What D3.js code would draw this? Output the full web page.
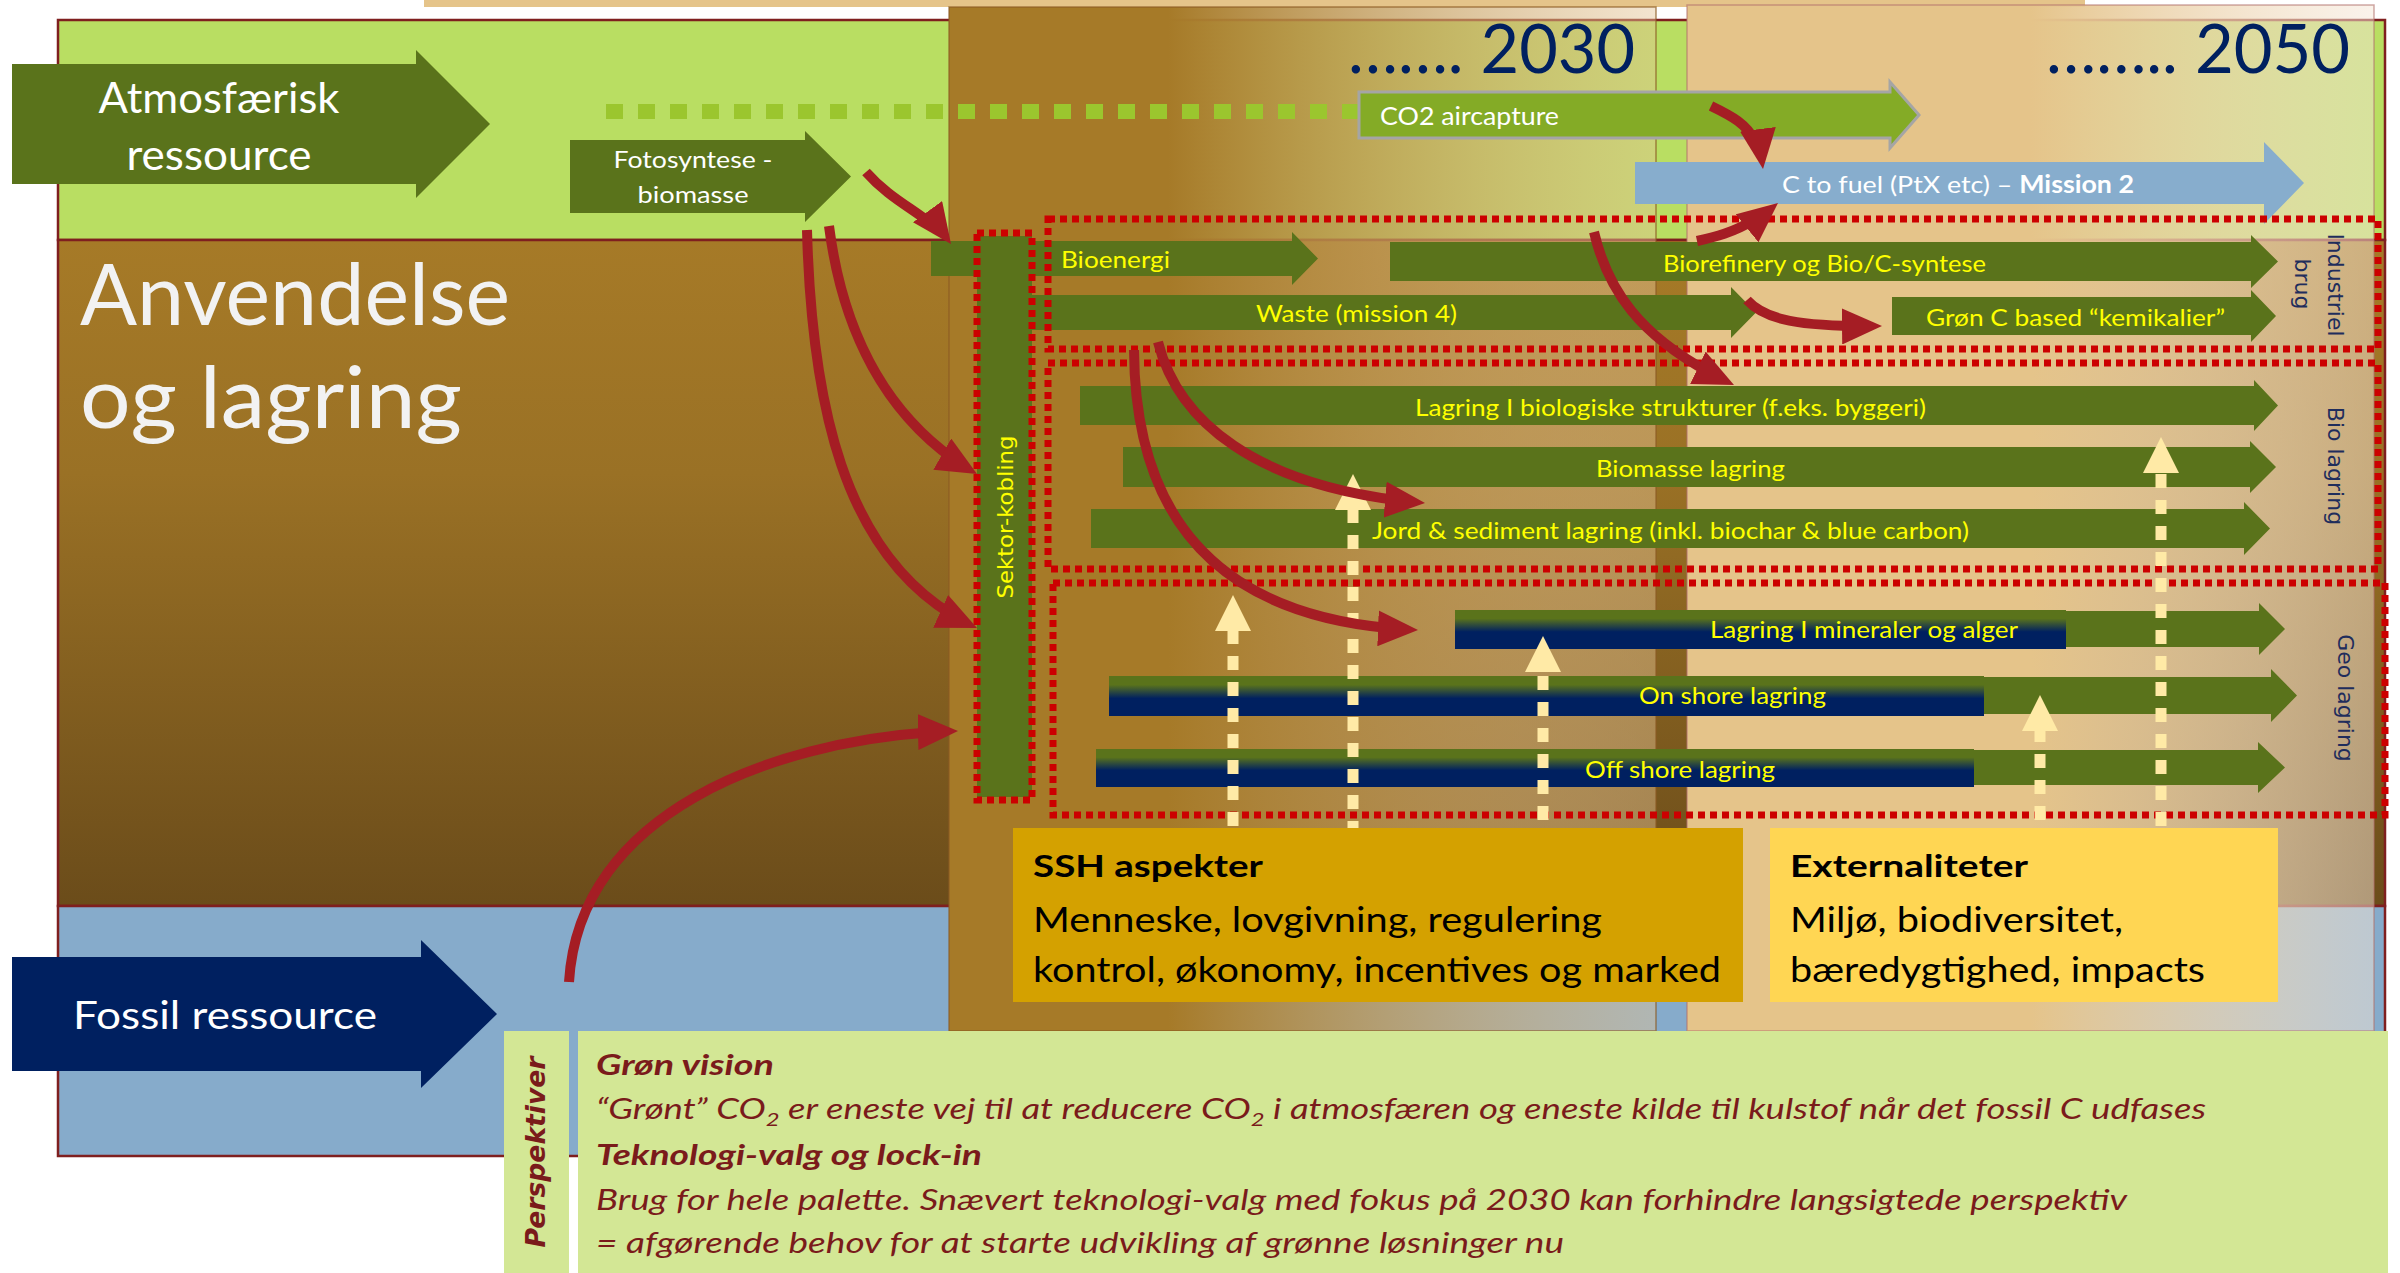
<!DOCTYPE html>
<html><head><meta charset="utf-8">
<script src="https://cdn.jsdelivr.net/npm/d3@7/dist/d3.min.js"></script>
<style>html,body{margin:0;padding:0;background:#fff;overflow:hidden}</style>
</head><body><svg id="c" width="2400" height="1273"></svg>
<script>
// ---------- content (texts of the diagram) ----------
const horizons = ["……. 2030", "…….. 2050"];
const sourceAtm = ["Atmosfærisk", "ressource"];
const sourceBio = ["Fotosyntese -", "biomasse"];
const sourceFossil = ["Fossil ressource"];
const captureLabel = ["CO2 aircapture"];
const fuelLabel = ["C to fuel (PtX etc) – ", "Mission 2"];
const useTitle = ["Anvendelse", "og lagring"];
const hubLabel = ["Sektor-kobling"];
const groupTitles = [["Industriel", "brug"], ["Bio lagring"], ["Geo lagring"]];
const industryFlows = ["Bioenergi", "Biorefinery og Bio/C-syntese", "Waste (mission 4)", "Grøn C based “kemikalier”"];
const bioFlows = ["Lagring I biologiske strukturer (f.eks. byggeri)", "Biomasse lagring", "Jord & sediment lagring (inkl. biochar & blue carbon)"];
const geoFlows = ["Lagring I mineraler og alger", "On shore lagring", "Off shore lagring"];
const sshLines = ["SSH aspekter", "Menneske, lovgivning, regulering", "kontrol, økonomy, incentives og marked"];
const extLines = ["Externaliteter", "Miljø, biodiversitet,", "bæredygtighed, impacts"];
const perspTitle = ["Perspektiver"];
const perspLines = ["Grøn vision",
  "“Grønt” CO|2| er eneste vej til at reducere CO|2| i atmosfæren og eneste kilde til kulstof når det fossil C udfases",
  "Teknologi-valg og lock-in",
  "Brug for hele palette. Snævert teknologi-valg med fokus på 2030 kan forhindre langsigtede perspektiv",
  "= afgørende behov for at starte udvikling af grønne løsninger nu"];

// ---------- layout (design units, mapped through scales) ----------
const W = 2400, H = 1273;
const X = d3.scaleLinear().domain([0, 2400]).range([0, W]);
const Y = d3.scaleLinear().domain([0, 1273]).range([0, H]);

// [x0, x1, yCenter, bodyHeight, overhang, headLength]
const industrySpans = [[931,1318,258.5,35,9,26],[1390,2278,261.5,39,7,27],[977,1756,312.5,35,8,25],[1892,2276,316,38,7,25]];
const industryText = [[1061,268,109],[1663,272,323],[1256,322,201],[1926,326,299]];
const bioSpans = [[1080,2278,405.5,39,6,24],[1123,2276,467,40,6,26],[1091,2270,528.5,39,7,26]];
const bioText = [[1415,416,511],[1596,477,189],[1372,539,597]];
const geoSpans = [[1455,2285,629,36,8,26],[1109,2297,695.5,37,8,26],[1096,2285,767.5,35,8,27]];
const geoShade = [[1455,2066,610,649],[1109,1984,676,716],[1096,1974,749,787]];
const geoText = [[1710,638,308],[1639,704,187],[1585,778,190]];
const groupBoxes = [[1048,219,2378,349],[1048,363,2378,569],[1053,583,2385,815]];
const groupTitlePos = [[[2335,285],[2302,284]],[[2335,466]],[[2345,698]]];
const creamArrows = [[1233,595,826],[1353,474,835],[1543,636,820],[2040,695,820],[2161,437,826]];
const redArrows = [
  [[866,172],[895,205],[930,215],[951,244]],
  [[829,226],[845,350],[900,430],[977,474]],
  [[807,230],[812,420],[850,570],[977,628]],
  [[569,982],[580,800],[800,735],[958,731]],
  [[1711,106],[1740,120],[1758,130],[1763,169]],
  [[1697,241],[1720,236],[1745,230],[1778,203]],
  [[1594,232],[1610,300],[1650,345],[1734,385]],
  [[1747,300],[1765,320],[1800,327],[1882,326]],
  [[1158,342],[1180,430],[1270,490],[1425,503]],
  [[1134,350],[1135,520],[1220,622],[1418,630]]
];

const C = {green:"#5a731b", yellow:"#ffff00", red:"#a51d24", navy:"#002060", dot:"#cc0000",
  band1:"#b9de62", band3:"#86abcb", frame:"#7f1f1f", cream:"#ffeaa6", label:"#1f2d5c", persp:"#7a1b1b"};

const svg = d3.select("#c");
const defs = svg.append("defs");
function lin(id, stops, vertical) {
  const g = defs.append("linearGradient").attr("id", id).attr("x1", 0).attr("y1", 0)
    .attr("x2", vertical ? 0 : 1).attr("y2", vertical ? 1 : 0);
  stops.forEach(([o, c, op]) => g.append("stop").attr("offset", o).attr("stop-color", c).attr("stop-opacity", op ?? 1));
}
lin("gBrown", [[0,"#a67a27"],[0.35,"#9a7125"],[1,"#6b4c1a"]], true);
lin("g2030", [[0,"#a67a28"],[0.31,"#a67a28"],[1,"rgb(228,196,150)",0.45]]);
lin("g2050", [[0,"#e5c48a"],[0.5,"#e5c48a"],[1,"rgb(245,230,215)",0.5]]);
lin("gGeo", [[0,"#5a731b"],[0.22,"#5a731b"],[0.56,"#002060"],[1,"#002060"]], true);
defs.append("marker").attr("id","rh").attr("markerUnits","userSpaceOnUse")
  .attr("viewBox","0 0 40 36").attr("refX",40).attr("refY",18).attr("markerWidth",40).attr("markerHeight",36)
  .attr("orient","auto").append("path").attr("d","M0,0L40,18L0,36Z").attr("fill", C.red);

function rect(g, x0, y0, x1, y1, fill) {
  return g.append("rect").attr("x", X(x0)).attr("y", Y(y0)).attr("width", X(x1) - X(x0)).attr("height", Y(y1) - Y(y0)).attr("fill", fill);
}
function arrowD(x0, x1, yc, h, oh, hl) {
  const yt = yc - h / 2, yb = yc + h / 2, xb = x1 - hl;
  return d3.line()([[x0,yt],[xb,yt],[xb,yt-oh],[x1,yc],[xb,yb+oh],[xb,yb],[x0,yb]].map(([a,b]) => [X(a), Y(b)])) + "Z";
}
function label(g, text, o) {
  const t = g.append("text").attr("x", X(o.x)).attr("y", Y(o.y))
    .attr("font-family", o.family || "Lato").attr("font-size", o.size).attr("fill", o.fill)
    .attr("text-anchor", o.anchor || "start");
  if (o.weight) t.attr("font-weight", o.weight);
  if (o.italic) t.attr("font-style", o.italic);
  if (o.rotate) t.attr("transform", `rotate(${o.rotate},${X(o.x)},${Y(o.y)})`).attr("dominant-baseline", "central");
  if (o.parts) {
    let sub = false;
    o.parts.forEach(p => {
      const s = t.append("tspan").text(p.t);
      if (p.b) s.attr("font-weight", "bold");
      if (p.sub) { s.attr("dy", 7).attr("font-size", o.size * 0.65); sub = true; }
      else if (sub) { s.attr("dy", -7); sub = false; }
    });
  } else t.text(text);
  if (o.w) t.attr("textLength", o.w).attr("lengthAdjust", "spacingAndGlyphs");
  return t;
}

const g = svg.append("g");
rect(g, 0, 0, 2400, 1273, "#ffffff");
rect(g, 424, 0, 2085, 7, "#e5c48a");

// background bands
rect(g, 58, 20, 2385, 240, C.band1).attr("stroke", C.frame).attr("stroke-width", 2.5);
rect(g, 58, 240, 2385, 906, "url(#gBrown)").attr("stroke", C.frame).attr("stroke-width", 2.5);
rect(g, 58, 906, 2385, 1156, C.band3).attr("stroke", C.frame).attr("stroke-width", 2.5);

// time panels
rect(g, 949, 7, 1656, 1031, "url(#g2030)").attr("stroke", "#8a5a22").attr("stroke-opacity", 0.7).attr("stroke-width", 1.5);
rect(g, 1687, 5, 2374, 1031, "url(#g2050)").attr("stroke", "#b0706a").attr("stroke-opacity", 0.6).attr("stroke-width", 1.5);

label(g, horizons[0], {x:1635, y:73, size:67, fill:C.navy, anchor:"end", w:287});
label(g, horizons[1], {x:2350, y:73, size:67, fill:C.navy, anchor:"end", w:304});

label(g, useTitle[0], {x:80, y:325, size:85, fill:"#f2f2f2", w:430});
label(g, useTitle[1], {x:80, y:428, size:85, fill:"#f2f2f2", w:382});

// source arrows
g.append("path").attr("d", arrowD(12, 490, 124, 120, 14, 74)).attr("fill", C.green);
label(g, sourceAtm[0], {x:219, y:113, size:42, fill:"#fff", anchor:"middle", w:241});
label(g, sourceAtm[1], {x:219, y:170, size:42, fill:"#fff", anchor:"middle", w:185});
g.append("path").attr("d", arrowD(570, 851, 176.5, 73, 9, 46)).attr("fill", C.green);
label(g, sourceBio[0], {x:693, y:168, size:24, fill:"#fff", anchor:"middle", w:159});
label(g, sourceBio[1], {x:693, y:203, size:24, fill:"#fff", anchor:"middle", w:111});
g.append("path").attr("d", arrowD(12, 497, 1014, 114, 17, 76)).attr("fill", C.navy);
label(g, sourceFossil[0], {x:225, y:1029, size:38, fill:"#fff", anchor:"middle", w:304});

// dotted air line, capture, fuel
g.append("line").attr("x1", X(606)).attr("x2", X(1359)).attr("y1", Y(111.5)).attr("y2", Y(111.5))
  .attr("stroke", "#9bc62e").attr("stroke-width", 15).attr("stroke-dasharray", "17 15");
g.append("path").attr("d", arrowD(1359, 1919, 115, 46, 10, 29)).attr("fill", "#84ab26").attr("stroke", "#a5a5a5").attr("stroke-width", 3);
label(g, captureLabel[0], {x:1380, y:125, size:25, fill:"#fff", w:179});
g.append("path").attr("d", arrowD(1635, 2304, 183, 42, 20, 40)).attr("fill", "#87adcd");
label(g, null, {x:1782, y:193, size:24, fill:"#fff", w:352, parts:[{t:fuelLabel[0]},{t:fuelLabel[1], b:true}]});

// sektor bar
rect(g, 977, 236, 1032, 797, C.green);

// flow arrows
industrySpans.forEach(s => g.append("path").attr("d", arrowD(...s)).attr("fill", C.green));
bioSpans.forEach(s => g.append("path").attr("d", arrowD(...s)).attr("fill", C.green));
geoSpans.forEach(s => g.append("path").attr("d", arrowD(...s)).attr("fill", C.green));
geoShade.forEach(([x0, x1, y0, y1]) => rect(g, x0, y0, x1, y1, "url(#gGeo)"));

// dotted red boxes
groupBoxes.concat([[977,233,1032,800]]).forEach(([x0, y0, x1, y1]) =>
  g.append("rect").attr("x", X(x0)).attr("y", Y(y0)).attr("width", X(x1) - X(x0)).attr("height", Y(y1) - Y(y0))
    .attr("fill", "none").attr("stroke", C.dot).attr("stroke-width", 7).attr("stroke-dasharray", "7 5"));

label(g, hubLabel[0], {x:1005, y:517, size:22, fill:C.yellow, anchor:"middle", family:"DejaVu Sans", rotate:-90, w:163});
groupTitles.forEach((lines, i) => lines.forEach((t, j) =>
  label(g, t, {x:groupTitlePos[i][j][0], y:groupTitlePos[i][j][1], size:22, fill:C.label, anchor:"middle", family:"DejaVu Sans", rotate:90})));

// flow texts
industryFlows.forEach((t, i) => label(g, t, {x:industryText[i][0], y:industryText[i][1], size:23, fill:C.yellow, w:industryText[i][2]}));
bioFlows.forEach((t, i) => label(g, t, {x:bioText[i][0], y:bioText[i][1], size:23, fill:C.yellow, w:bioText[i][2]}));
geoFlows.forEach((t, i) => label(g, t, {x:geoText[i][0], y:geoText[i][1], size:23, fill:C.yellow, w:geoText[i][2]}));

// cream dashed arrows
creamArrows.forEach(([x, tip, bottom]) => {
  g.append("line").attr("x1", X(x)).attr("x2", X(x)).attr("y1", Y(bottom)).attr("y2", Y(tip + 36))
    .attr("stroke", C.cream).attr("stroke-width", 11).attr("stroke-dasharray", "14 12");
  g.append("path").attr("d", d3.line()([[x - 18, tip + 36], [x, tip], [x + 18, tip + 36]].map(([a, b]) => [X(a), Y(b)])) + "Z").attr("fill", C.cream);
});

// red curved arrows
redArrows.forEach(p => {
  const pa = d3.path();
  pa.moveTo(X(p[0][0]), Y(p[0][1]));
  pa.bezierCurveTo(X(p[1][0]), Y(p[1][1]), X(p[2][0]), Y(p[2][1]), X(p[3][0]), Y(p[3][1]));
  const el = g.append("path").attr("d", pa.toString()).attr("fill", "none").attr("stroke", C.red)
    .attr("stroke-width", 10).attr("marker-end", "url(#rh)");
  const L = el.node().getTotalLength();
  el.attr("stroke-dasharray", `${Math.max(L - 28, 0)} ${L + 100}`);
});

// SSH and externalities
rect(g, 1013, 828, 1743, 1002, "#d4a100");
rect(g, 1770, 828, 2278, 1002, "#ffd653");
const rowsY = [877, 932, 982];
sshLines.forEach((t, i) => label(g, t, {x:1033, y:rowsY[i], size: i ? 34 : 31, weight: i ? null : "bold", fill:"#000", w:[230,569,688][i]}));
extLines.forEach((t, i) => label(g, t, {x:1790, y:rowsY[i], size: i ? 34 : 31, weight: i ? null : "bold", fill:"#000", w:[238,333,415][i]}));

// perspectives
rect(g, 504, 1031, 569, 1273, "#d3e795");
rect(g, 578, 1031, 2388, 1273, "#d3e795");
label(g, perspTitle[0], {x:536, y:1152, size:26, fill:C.persp, anchor:"middle", family:"DejaVu Sans", weight:"bold", italic:"oblique", rotate:-90, w:191});
const pY = [1075, 1119, 1165, 1210, 1253], pW = [178, 1610, 386, 1531, 968];
perspLines.forEach((t, i) => {
  const o = {x:596, y:pY[i], size:28, fill:C.persp, italic:"italic", w:pW[i]};
  if (i === 0 || i === 2) o.weight = "bold";
  if (t.includes("|")) o.parts = t.split("|").map((s, k) => ({t:s, sub: k % 2 === 1}));
  label(g, o.parts ? null : t, o);
});
</script></body></html>
